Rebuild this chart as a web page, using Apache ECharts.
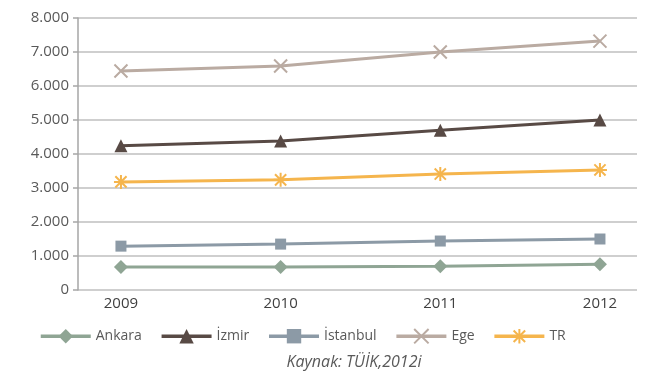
<!DOCTYPE html>
<html><head><meta charset="utf-8">
<script src="https://cdn.jsdelivr.net/npm/echarts@6/dist/echarts.min.js"></script>
<style>html,body{margin:0;padding:0;background:#fff}#c{width:659px;height:372px}</style>
</head><body><div id="c"></div>
<script>
const categories = ['2009', '2010', '2011', '2012'];
const ankara = [680, 680, 700, 760];
const izmir = [4240, 4380, 4700, 5000];
const istanbul = [1290, 1350, 1440, 1500];
const ege = [6440, 6590, 7000, 7320];
const tr = [3180, 3240, 3410, 3530];
const yTicks = [0, 1000, 2000, 3000, 4000, 5000, 6000, 7000, 8000];
const seriesNames = ['Ankara', 'İzmir', 'İstanbul', 'Ege', 'TR'];
const caption = 'Kaynak: TÜİK,2012i';

const FONT = "'Open Sans', sans-serif";
const crossPath = 'path://M0,0L10,10M10,0L0,10';
const starPath = 'path://M5,0L5,10M1,1L9,9M9,1L1,9M0,5L10,5';

function pts(arr) { return arr.map((v, i) => [i, v]); }
function fmt(v) { return v === 0 ? '0' : (v / 1000).toFixed(3); }

function mk(name, data, color, symbol, size, stroke) {
  return {
    name, type: 'line', data: pts(data), symbol, symbolSize: size,
    lineStyle: { color, width: 3 },
    itemStyle: stroke ? { color: color, borderColor: color, borderWidth: 2 } : { color },
    emphasis: { disabled: true },
    animation: false
  };
}

const chart = echarts.init(document.getElementById('c'));
chart.setOption({
  animation: false,
  textStyle: { fontFamily: FONT },
  grid: { left: 78, right: 22, top: 18, bottom: 82, containLabel: false },
  title: {
    text: caption, left: 349, textAlign: 'center', top: 349,
    textStyle: { fontFamily: FONT, fontSize: 16, fontStyle: 'italic', fontWeight: 'normal', color: '#595959' }
  },
  legend: {
    left: 34, top: 323, itemWidth: 50, itemHeight: 18, itemGap: 18,
    data: seriesNames,
    lineStyle: { width: 3.5 },
    textStyle: { fontFamily: FONT, fontSize: 14, color: '#595959' }
  },
  xAxis: {
    type: 'value', min: -0.269, max: 3.232,
    axisLine: { show: false },
    axisTick: { show: false },
    splitLine: { show: false },
    axisLabel: {
      customValues: [0, 1, 2, 3],
      formatter: v => categories[Math.round(v)],
      fontFamily: FONT, fontSize: 15, color: '#404040', margin: 6
    }
  },
  yAxis: {
    type: 'value', min: 0, max: 8000, interval: 1000,
    axisLine: { show: true, onZero: false, lineStyle: { color: '#a6a6a6', width: 1.5 } },
    axisTick: { show: true, length: 5, lineStyle: { color: '#a6a6a6', width: 1.5 } },
    splitLine: { show: true, lineStyle: { color: '#bfbfbf', width: 1.5 } },
    axisLabel: { formatter: fmt, fontFamily: FONT, fontSize: 15, color: '#595959', margin: 9 }
  },
  series: [
    mk(seriesNames[0], ankara, '#8fa594', 'diamond', 14, false),
    mk(seriesNames[1], izmir, '#584a45', 'triangle', 13, false),
    mk(seriesNames[2], istanbul, '#8c9aa6', 'rect', 11, false),
    mk(seriesNames[3], ege, '#baaba2', crossPath, 13, true),
    mk(seriesNames[4], tr, '#f5b54d', starPath, 14, true)
  ]
});
</script></body></html>
